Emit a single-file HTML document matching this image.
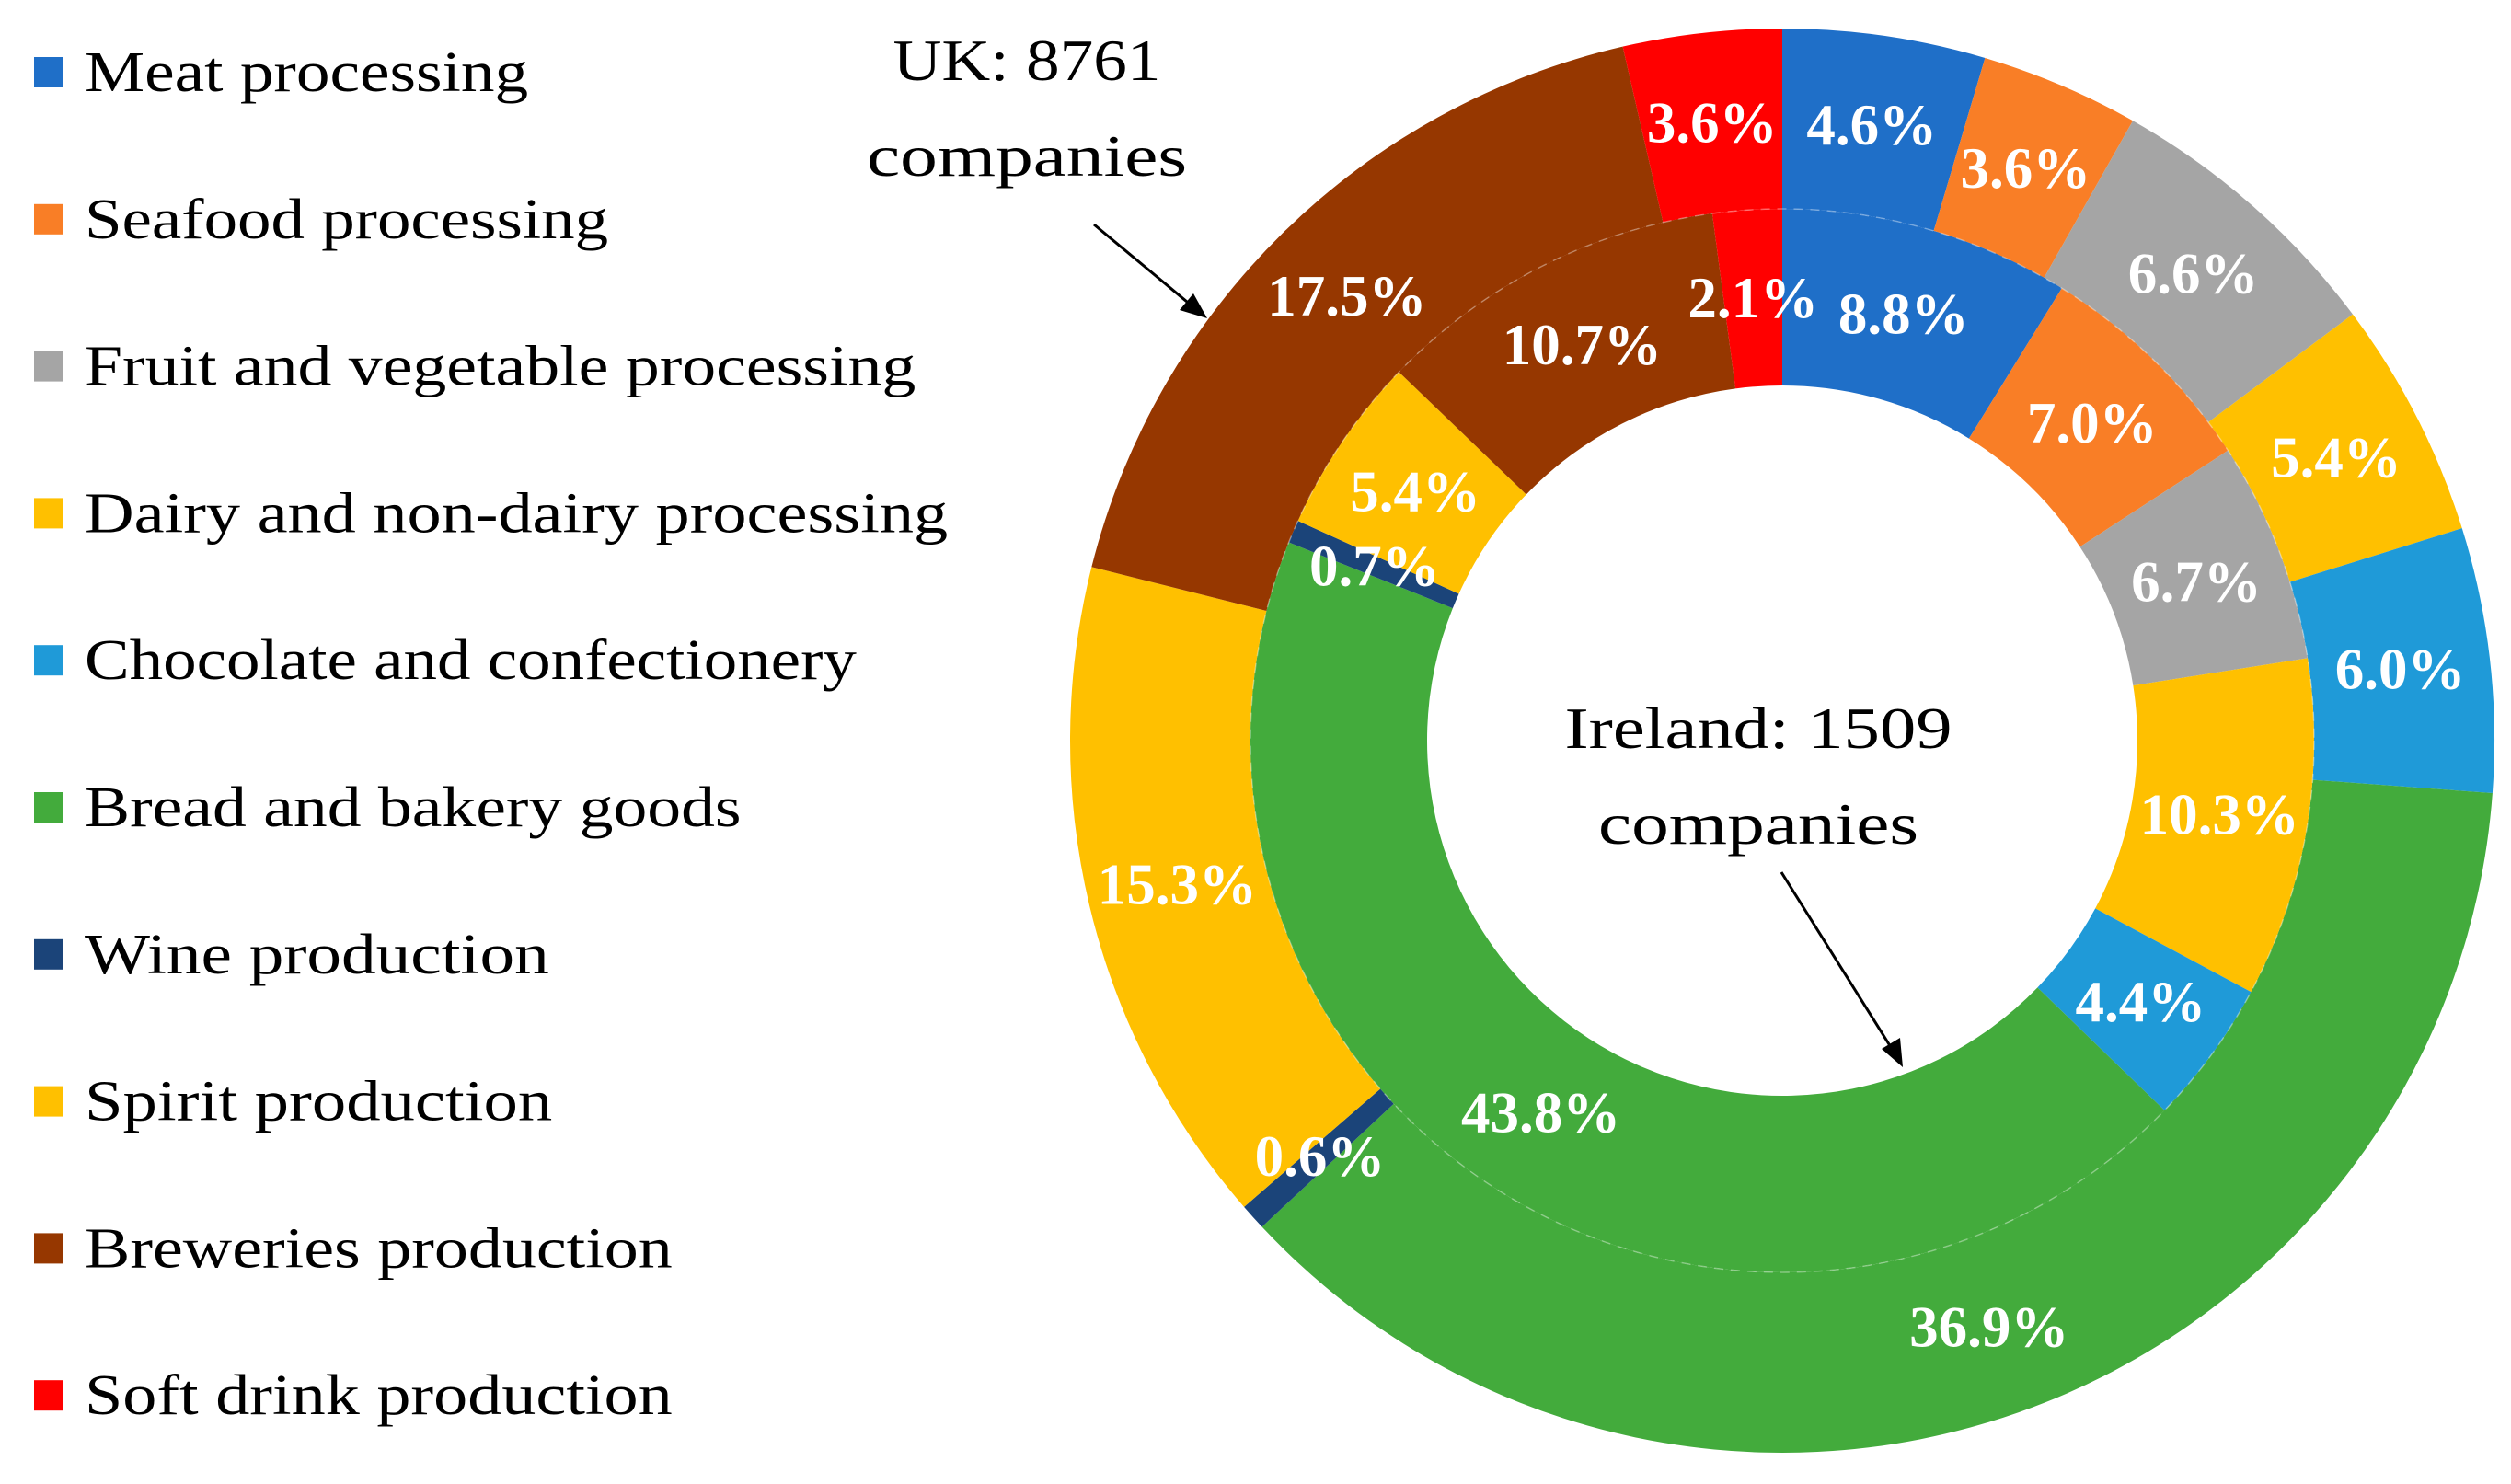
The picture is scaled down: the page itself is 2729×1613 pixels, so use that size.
<!DOCTYPE html>
<html><head><meta charset="utf-8"><style>
html,body{margin:0;padding:0;background:#fff;}
svg{display:block;}
text{font-family:"Liberation Serif",serif;}
</style></head><body>
<svg id="chart" width="2729" height="1613" viewBox="0 0 2729 1613" xmlns="http://www.w3.org/2000/svg">
<g id="rings"></g>
<g id="labels"></g>
<g id="legend"></g>
<g>
<text x="1116" y="87" font-size="64" text-anchor="middle" textLength="291" lengthAdjust="spacingAndGlyphs">UK: 8761</text>
<text x="1116" y="191" font-size="64" text-anchor="middle" textLength="348" lengthAdjust="spacingAndGlyphs">companies</text>
<line x1="1189" y1="244" x2="1296" y2="333" stroke="#000" stroke-width="3"/>
<polygon points="1312,346 1282,337 1297,319" fill="#000"/>
</g>
<g>
<text x="1911" y="813" font-size="64" text-anchor="middle" textLength="421" lengthAdjust="spacingAndGlyphs">Ireland: 1509</text>
<text x="1911" y="917" font-size="64" text-anchor="middle" textLength="348" lengthAdjust="spacingAndGlyphs">companies</text>
<line x1="1936" y1="948" x2="2058" y2="1143" stroke="#000" stroke-width="3"/>
<polygon points="2068,1160 2045,1140 2065,1128" fill="#000"/>
</g>
</svg>
<script>
const categories = ["Meat processing","Seafood processing","Fruit and vegetable processing","Dairy and non-dairy processing","Chocolate and confectionery","Bread and bakery goods","Wine production","Spirit production","Breweries production","Soft drink production"];
const ukValues = [4.6,3.6,6.6,5.4,6.0,36.9,0.6,15.3,17.5,3.6];
const irelandValues = [8.8,7.0,6.7,10.3,4.4,43.8,0.7,5.4,10.7,2.1];
const colors = ["#1F6FC8","#F97E26","#A5A5A5","#FFC000","#1F9AD8","#43AB3C","#1B4479","#FFC000","#963700","#FF0000"];
const legendWidths = [277,327,519,539,482,410,290,292,367,367];

const NS="http://www.w3.org/2000/svg";
const S=1.7404, cx=1937, cy=805, rOut=774, rMid=578, rIn=386;
const rings=document.getElementById('rings'), labels=document.getElementById('labels'), legend=document.getElementById('legend');
function pt(r,a){return [cx+r*Math.sin(a), cy-r*Math.cos(a)];}
function angle(p){return p/100*2*Math.PI;}
function arc(r0,r1,a0,a1){
  const l=(a1-a0)>Math.PI?1:0;
  const p1=pt(r1,a0),p2=pt(r1,a1),p3=pt(r0,a1),p4=pt(r0,a0);
  return `M${p1[0]},${p1[1]} A${r1},${r1} 0 ${l} 1 ${p2[0]},${p2[1]} L${p3[0]},${p3[1]} A${r0},${r0} 0 ${l} 0 ${p4[0]},${p4[1]} Z`;
}
function drawRing(values,r0,r1,name){
  const tot=values.reduce((a,b)=>a+b,0);
  let cum=0;
  values.forEach((v,i)=>{
    const a0=angle(cum/tot*100), a1=angle((cum+v)/tot*100);
    const p=document.createElementNS(NS,'path');
    p.setAttribute('d',arc(r0,r1,a0,a1));
    p.setAttribute('fill',colors[i]);
    
    
    rings.appendChild(p);
    const am=(a0+a1)/2, lp=pt((r0+r1)/2,am);
    const t=document.createElementNS(NS,'text');
    t.setAttribute('x',lp[0]); t.setAttribute('y',lp[1]);
    t.setAttribute('text-anchor','middle'); t.setAttribute('dominant-baseline','central');
    t.setAttribute('font-size','63'); t.setAttribute('font-weight','bold'); t.setAttribute('fill','#fff');
    t.textContent=v.toFixed(1)+'%';
    
    
    labels.appendChild(t);
    cum+=v;
  });
}
drawRing(ukValues,rMid,rOut,'uk');
drawRing(irelandValues,rIn,rMid,'ireland');
const c=document.createElementNS(NS,'circle');
c.setAttribute('cx',cx);c.setAttribute('cy',cy);c.setAttribute('r',rMid);
c.setAttribute('fill','none');c.setAttribute('stroke','rgba(255,255,255,0.35)');c.setAttribute('stroke-width','1.5');c.setAttribute('stroke-dasharray','10 8');


rings.appendChild(c);
categories.forEach((cat,i)=>{
  const y=99+i*159.8;
  const r=document.createElementNS(NS,'rect');
  r.setAttribute('x',37);r.setAttribute('y',y-37);r.setAttribute('width',32);r.setAttribute('height',33);r.setAttribute('fill',colors[i]);
  
  
  legend.appendChild(r);
  const t=document.createElementNS(NS,'text');
  t.setAttribute('x',92);t.setAttribute('y',y);t.setAttribute('font-size','62');
  t.setAttribute('textLength',legendWidths[i]*S);t.setAttribute('lengthAdjust','spacingAndGlyphs');
  t.textContent=cat;
  
  
  legend.appendChild(t);
});
</script>
</body></html>
